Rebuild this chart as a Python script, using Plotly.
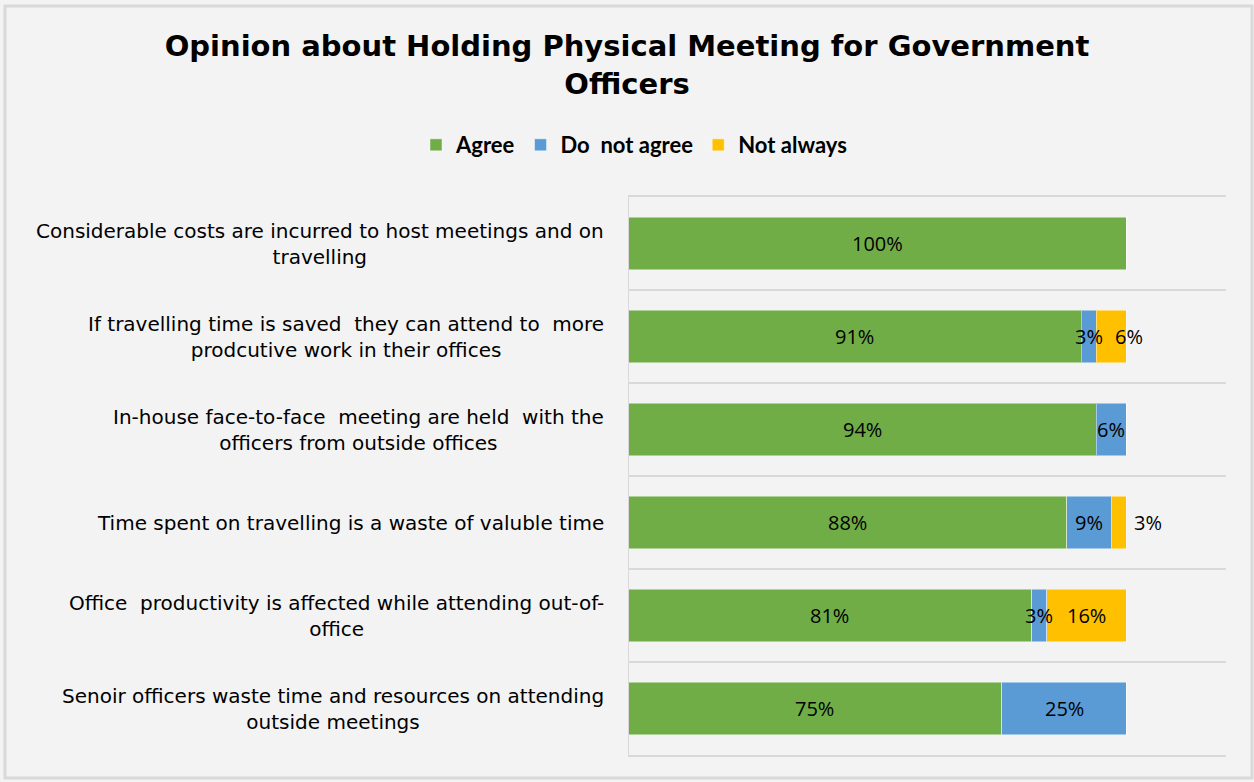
import plotly.graph_objects as go

# Survey statements (top to bottom) and response shares in percent
statements = [
    "Considerable costs are incurred to host meetings and on<br>travelling",
    "If travelling time is saved  they can attend to  more<br>prodcutive work in their offices",
    "In-house face-to-face  meeting are held  with the<br>officers from outside offices",
    "Time spent on travelling is a waste of valuble time",
    "Office  productivity is affected while attending out-of-<br>office",
    "Senoir officers waste time and resources on attending<br>outside meetings",
]
agree = [100, 91, 94, 88, 81, 75]
do_not_agree = [0, 3, 6, 9, 3, 25]
not_always = [0, 6, 0, 3, 16, 0]

series_names = ["Agree", "Do  not agree", "Not always"]
series_values = [agree, do_not_agree, not_always]
series_colors = ["#70AD47", "#5B9BD5", "#FFC000"]

W, H = 1254, 782
L, R, T, B = 628, 28, 197, 27
plot_w, plot_h = W - L - R, H - T - B
BG = "#F3F3F3"
GRID = "#D9D9D9"

fig = go.Figure()
for name, vals, col in zip(series_names, series_values, series_colors):
    fig.add_trace(go.Bar(
        y=statements, x=vals, name=name, orientation="h",
        marker=dict(color=col, line=dict(color="rgba(255,255,255,0.45)", width=1)),
        width=0.56, hoverinfo="x+name",
    ))

# Value labels centred on each segment; a few narrow end segments put theirs just outside
label_shift = {(1, 2): 18, (3, 2): 29}
annotations = []
for r, stmt in enumerate(statements):
    start = 0
    for s, vals in enumerate(series_values):
        v = vals[r]
        if v > 0:
            annotations.append(dict(
                x=start + v / 2, y=stmt, xref="x", yref="y", text=f"{v}%",
                showarrow=False, xshift=label_shift.get((r, s), 0),
                font=dict(family="Open Sans, sans-serif", size=20, color="#000000"),
            ))
        start += v

# Category labels, each line centred, right edge next to the plot area
for stmt in statements:
    annotations.append(dict(
        x=(606 - L) / plot_w, y=stmt, xref="paper", yref="y", text=stmt,
        xanchor="right", align="center", showarrow=False,
        font=dict(family="DejaVu Sans, sans-serif", size=20, color="#000000"),
    ))

fig.update_layout(
    width=W, height=H,
    margin=dict(l=L, r=R, t=T, b=B),
    paper_bgcolor=BG, plot_bgcolor=BG,
    barmode="stack", bargap=0.44,
    title=dict(
        text="Opinion about Holding Physical Meeting for Government<br>Officers",
        x=0.5, xref="container", xanchor="center",
        y=1 - 56 / H, yref="container", yanchor="top",
        font=dict(family="DejaVu Sans, sans-serif", size=29, color="#000000", weight="bold"),
    ),
    legend=dict(
        orientation="h", x=(634 - L) / plot_w, xanchor="center",
        y=1 + (T - 145) / plot_h, yanchor="middle", xref="paper",
        traceorder="normal",
        font=dict(family="Lato, sans-serif", size=22, color="#000000", weight="bold"),
        itemwidth=30, bgcolor="rgba(0,0,0,0)",
    ),
    xaxis=dict(range=[0, 120], showticklabels=False, showgrid=False,
               zeroline=False, showline=True, mirror=True, linecolor=GRID,
               linewidth=2, fixedrange=True),
    yaxis=dict(autorange="reversed", type="category", tickson="boundaries",
               showticklabels=False, showgrid=True, gridcolor=GRID, gridwidth=2,
               ticks="", showline=False, zeroline=False),
    annotations=annotations,
    shapes=[
        # left axis line
        dict(type="line", xref="x", yref="paper", x0=0, x1=0, y0=0, y1=1,
             line=dict(color=GRID, width=2)),
        # chart border
        dict(type="rect", xref="paper", yref="paper",
             x0=(5 - L) / plot_w, x1=(W - 2 - L) / plot_w,
             y0=-(778 - (H - B)) / plot_h,
             y1=1 + (T - 6) / plot_h,
             line=dict(color="#D9D9D9", width=3), layer="below"),
    ],
)

fig.write_html("out.html")
